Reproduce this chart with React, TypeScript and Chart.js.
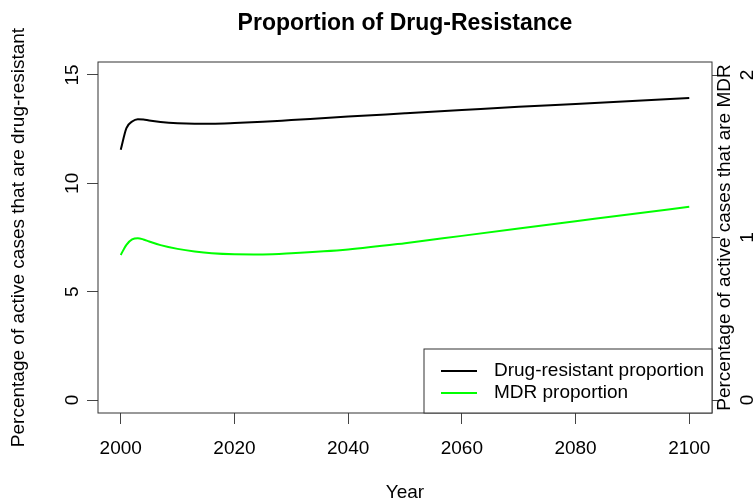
import React, { useEffect, useRef } from 'react';
import { Chart, registerables } from 'chart.js';

Chart.register(...registerables);

const FONT = 'Liberation Sans, Arial, Helvetica, sans-serif';

const titleText = 'Proportion of Drug-Resistance';
const xTitle = 'Year';
const leftTitle = 'Percentage of active cases that are drug-resistant';
const rightTitle = 'Percentage of active cases that are MDR';

const years = [2000, 2001, 2002, 2003, 2004, 2005, 2007, 2010, 2013, 2016, 2020, 2025, 2030, 2040, 2050, 2060, 2070, 2080, 2090, 2100];
const drugResistant = [11.55, 12.55, 12.85, 12.96, 12.95, 12.9, 12.83, 12.77, 12.75, 12.75, 12.78, 12.84, 12.92, 13.08, 13.23, 13.38, 13.53, 13.66, 13.8, 13.94];
const mdr = [0.893, 0.955, 0.988, 0.996, 0.988, 0.975, 0.953, 0.93, 0.914, 0.903, 0.897, 0.896, 0.903, 0.926, 0.965, 1.01, 1.055, 1.1, 1.145, 1.189];

const seriesLabels = ['Drug-resistant proportion', 'MDR proportion'];
const seriesColors = ['#000000', '#00ff00'];

const xTicks = [2000, 2020, 2040, 2060, 2080, 2100];
const leftTicks = [0, 5, 10, 15];
const rightTicks = [0, 1, 2];

const boxPlugin = {
  id: 'rBox',
  afterDraw(chart: any) {
    const { ctx, chartArea: a } = chart;
    ctx.save();
    ctx.strokeStyle = '#333';
    ctx.lineWidth = 1;
    const l = Math.round(a.left), t = Math.round(a.top), r = Math.round(a.right), b = Math.round(a.bottom);
    ctx.strokeRect(l, t, r - l, b - t);

    // right axis title (reads bottom to top)
    ctx.fillStyle = '#000';
    ctx.font = `19px ${FONT}`;
    ctx.textAlign = 'center';
    ctx.textBaseline = 'middle';
    ctx.save();
    ctx.translate(725, (a.top + a.bottom) / 2);
    ctx.rotate(-Math.PI / 2);
    ctx.fillText(rightTitle, 0, 0);
    ctx.restore();

    // legend
    const lw = 288, lh = 64;
    const lx = r - lw, ly = b - lh;
    ctx.fillStyle = '#fff';
    ctx.fillRect(lx, ly, lw, lh);
    ctx.strokeStyle = '#333';
    ctx.strokeRect(lx, ly, lw, lh);
    chart.data.datasets.forEach((ds: any, i: number) => {
      const y = ly + 22 + i * 22;
      ctx.strokeStyle = ds.borderColor;
      ctx.lineWidth = 2;
      ctx.beginPath();
      ctx.moveTo(lx + 17, y);
      ctx.lineTo(lx + 53, y);
      ctx.stroke();
      ctx.fillStyle = '#000';
      ctx.textAlign = 'left';
      ctx.textBaseline = 'middle';
      ctx.fillText(ds.label, lx + 70, y);
    });
    ctx.restore();
  },
};

export default function App() {
  const ref = useRef<HTMLCanvasElement | null>(null);
  useEffect(() => {
    if (!ref.current) return;
    const chart = new Chart(ref.current, {
      type: 'line',
      data: {
        datasets: [
          {
            label: seriesLabels[0],
            data: years.map((x, i) => ({ x, y: drugResistant[i] })),
            borderColor: seriesColors[0],
            backgroundColor: seriesColors[0],
            borderWidth: 2,
            pointRadius: 0,
            cubicInterpolationMode: 'monotone',
            yAxisID: 'y',
          },
          {
            label: seriesLabels[1],
            data: years.map((x, i) => ({ x, y: mdr[i] })),
            borderColor: seriesColors[1],
            backgroundColor: seriesColors[1],
            borderWidth: 2,
            pointRadius: 0,
            cubicInterpolationMode: 'monotone',
            yAxisID: 'y2',
          },
        ],
      },
      options: {
        animation: false,
        responsive: false,
        maintainAspectRatio: false,
        layout: { padding: 0 },
        plugins: {
          legend: { display: false },
          tooltip: { enabled: false },
          title: {
            display: true,
            text: titleText,
            fullSize: false,
            color: '#000',
            font: { family: FONT, size: 23, weight: 'bold', lineHeight: 1.2 },
            padding: { top: 10, bottom: 24.4 },
          },
        },
        scales: {
          x: {
            type: 'linear',
            position: 'bottom',
            min: 1996,
            max: 2104,
            afterBuildTicks: (s: any) => { s.ticks = xTicks.map((v) => ({ value: v })); },
            afterFit: (s: any) => { s.height = 91; },
            grid: { drawOnChartArea: false, drawTicks: true, tickLength: 11, color: '#444' },
            border: { display: false },
            ticks: {
              color: '#000',
              font: { family: FONT, size: 19, lineHeight: 1.2 },
              padding: 13.6,
              maxRotation: 0,
              minRotation: 0,
              autoSkip: false,
              callback: (v: any) => String(v),
            },
            title: {
              display: true,
              text: xTitle,
              color: '#000',
              font: { family: FONT, size: 19, lineHeight: 1.2 },
              padding: { top: 0, bottom: 0 },
            },
          },
          y: {
            type: 'linear',
            position: 'left',
            min: -0.6,
            max: 15.6,
            afterBuildTicks: (s: any) => { s.ticks = leftTicks.map((v) => ({ value: v })); },
            afterFit: (s: any) => { s.width = 98; },
            grid: { drawOnChartArea: false, drawTicks: true, tickLength: 11, color: '#444' },
            border: { display: false },
            ticks: {
              color: '#000',
              font: { family: FONT, size: 19, lineHeight: 1.2 },
              padding: 4,
              minRotation: 90,
              maxRotation: 90,
              crossAlign: 'center',
              autoSkip: false,
              callback: (v: any) => String(v),
            },
            title: {
              display: true,
              text: leftTitle,
              color: '#000',
              font: { family: FONT, size: 19, lineHeight: 1.2 },
              padding: { top: 7.6, bottom: 0 },
            },
          },
          y2: {
            type: 'linear',
            position: 'right',
            min: -0.08,
            max: 2.08,
            afterBuildTicks: (s: any) => { s.ticks = rightTicks.map((v) => ({ value: v })); },
            afterFit: (s: any) => { s.width = 44; },
            grid: { drawOnChartArea: false, drawTicks: true, tickLength: 8, color: '#444' },
            border: { display: false },
            ticks: {
              color: '#000',
              font: { family: FONT, size: 19, lineHeight: 1.2 },
              padding: 22,
              minRotation: 90,
              maxRotation: 90,
              crossAlign: 'center',
              autoSkip: false,
              callback: (v: any) => String(v),
            },
          },
        },
      } as any,
      plugins: [boxPlugin],
    });
    return () => chart.destroy();
  }, []);

  return (
    <div style={{ position: 'absolute', left: 0, top: 0, width: 756, height: 504, background: '#fff' }}>
      <canvas ref={ref} width={756} height={504} style={{ display: 'block', width: 756, height: 504 }} />
    </div>
  );
}
